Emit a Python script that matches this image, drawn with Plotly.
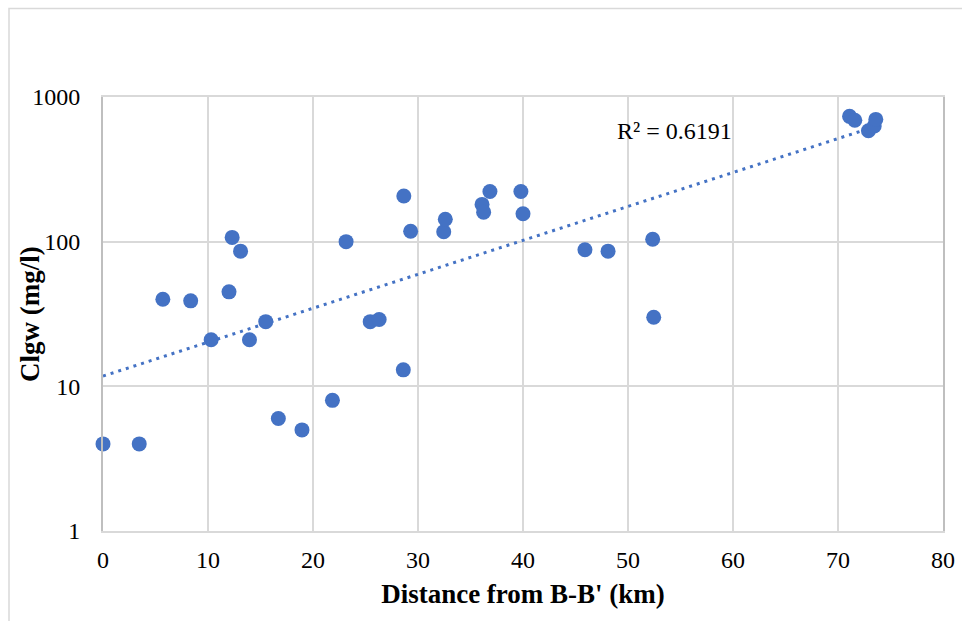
import numpy as np
import plotly.graph_objects as go

# Distance from B-B' (km)
distance_km = [0.0, 3.45, 5.7, 8.35, 10.3, 12.0, 12.3, 13.1, 13.95, 15.5,
               16.7, 18.95, 21.85, 23.15, 25.45, 26.3, 28.6, 28.65, 29.3,
               32.45, 32.6, 36.1, 36.25, 36.85, 39.8, 40.0, 45.9, 48.1,
               52.35, 52.45, 71.1, 71.6, 72.9, 73.45, 73.6]
# Clgw (mg/l)
clgw_mgl = [4, 4, 40, 39, 21, 45, 107, 86, 21, 28,
            6, 5, 8, 100, 28, 29, 13, 207, 118,
            117, 143, 181, 160, 222, 222, 156, 88, 86,
            104, 30, 735, 690, 585, 630, 700]

y_ticks = [1, 10, 100, 1000]
x_ticks = [0, 10, 20, 30, 40, 50, 60, 70, 80]
r2_label = "R² = 0.6191"

BLUE = "#4472C4"
GRID = "#d9d9d9"
FONT = "Liberation Serif, Times New Roman, serif"

# Exponential trendline (least squares on log values), as Excel does
x = np.array(distance_km)
ly = np.log10(np.array(clgw_mgl, dtype=float))
slope, intercept = np.polyfit(x, ly, 1)
xt = np.linspace(x.min(), x.max(), 200)
yt = 10 ** (intercept + slope * xt)

fig = go.Figure()
fig.add_trace(go.Scatter(
    x=xt, y=yt, mode="lines",
    line=dict(color=BLUE, width=3, dash="3px,5px"),
    hoverinfo="skip", showlegend=False, cliponaxis=False))
fig.add_trace(go.Scatter(
    x=distance_km, y=clgw_mgl, mode="markers",
    marker=dict(color=BLUE, size=15, line=dict(width=0)),
    showlegend=False, cliponaxis=False))

W, H = 962, 621
L, R, T, B = 103, 19, 97, 90
pw, ph = W - L - R, H - T - B

fig.add_annotation(x=54.4, y=2.765, xref="x", yref="y", text=r2_label,
                   showarrow=False, font=dict(family=FONT, size=24, color="#000"))

# y-axis title as annotation for exact placement
fig.add_annotation(x=(30 - L) / pw, y=0.5, xref="paper", yref="paper",
                   text="<b>Clgw (mg/l)</b>", textangle=-90, showarrow=False,
                   xanchor="center", yanchor="middle",
                   font=dict(family=FONT, size=27, color="#000"))

# outer chart border
fig.add_shape(type="rect", xref="paper", yref="paper",
              x0=(9 - L) / pw, x1=(970 - L) / pw,
              y0=-(640 - (H - B)) / ph, y1=1 + (T - 8.5) / ph,
              line=dict(color=GRID, width=1.5), layer="below")

fig.update_layout(
    width=W, height=H,
    margin=dict(l=L, r=R, t=T, b=B, autoexpand=False),
    paper_bgcolor="white", plot_bgcolor="white",
    font=dict(family=FONT, color="#000"),
)
fig.update_xaxes(
    range=[0, 80], tickvals=x_ticks, ticktext=[str(v) for v in x_ticks],
    automargin=False,
    showgrid=True, gridcolor=GRID, gridwidth=2,
    showline=True, linecolor=GRID, linewidth=2, mirror=True,
    zeroline=False,
    ticks="outside", ticklen=6, tickcolor="rgba(0,0,0,0)",
    tickfont=dict(size=24, family=FONT),
    title=dict(text="<b>Distance from B-B' (km)</b>", font=dict(size=27, family=FONT), standoff=12),
)
fig.update_yaxes(
    type="log", range=[0, 3], tickvals=y_ticks, ticktext=[str(v) for v in y_ticks],
    automargin=False,
    showgrid=True, gridcolor=GRID, gridwidth=2,
    showline=True, linecolor="#bfbfbf", linewidth=2, mirror=True,
    zeroline=False,
    ticks="outside", ticklen=16, tickcolor="rgba(0,0,0,0)",
    tickfont=dict(size=24, family=FONT),
)

fig.write_html("out.html")
